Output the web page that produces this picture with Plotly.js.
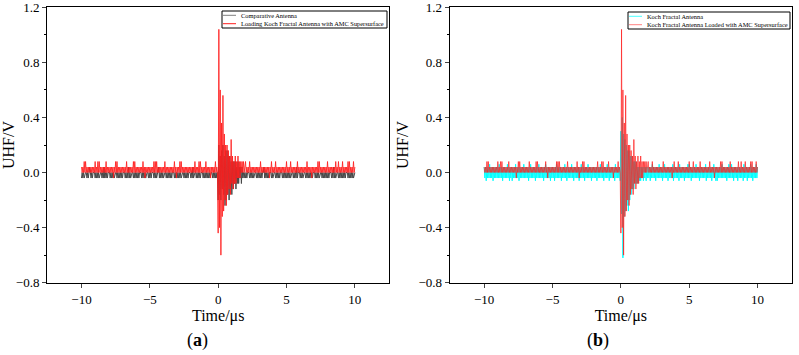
<!DOCTYPE html>
<html>
<head>
<meta charset="utf-8">
<script src="https://cdn.plot.ly/plotly-3.0.1.min.js"></script>
<style>html,body{margin:0;padding:0;background:#fff}#chart{width:799px;height:355px}</style>
</head>
<body>
<div id="chart"></div>
<script>
// Sampling of the UHF traces: start time and step, in microseconds
const t0 = -10;
const dt = 0.05;

// Comparative antenna (panel a), volts, one row per microsecond
const comparative = [
  -0.04,0,-0.04,0,-0.04,0,0,0,-0.04,0,-0.04,0,0.04,0,-0.04,0,-0.04,0,0,0,
  -0.04,0,-0.04,0,-0.04,0,-0.04,0,0,0,-0.04,0,-0.04,0.04,-0.04,0,-0.04,0,-0.04,0,
  0,0,-0.04,0,-0.04,0,-0.04,0,-0.04,0,0,0,-0.04,0,-0.04,0,-0.04,0,-0.04,0,
  -0.04,0,0,0,-0.04,0,-0.04,0,-0.04,0.04,-0.04,0,-0.04,0,0,0,-0.04,0,-0.04,0,
  -0.04,0,-0.04,0,-0.04,0,0,0,-0.04,0,-0.04,0,-0.04,0,-0.04,0,0,0,-0.04,0,
  -0.04,0,-0.04,0,0,0,-0.04,0,-0.04,0,-0.04,0,0,0.04,-0.04,0,-0.04,0,-0.04,0,
  -0.04,0,0,0,-0.04,0,-0.04,0,-0.04,0,-0.04,0,-0.04,0,0,0,-0.04,0,-0.04,0,
  -0.04,0,-0.04,0,-0.04,0,-0.04,0,0,0,-0.04,0,-0.04,0,-0.04,0,-0.04,0,0,0,
  -0.04,0,-0.04,0.04,-0.04,0,0,0,-0.04,0,-0.04,0,-0.04,0,-0.04,0,0,0,-0.04,0,
  -0.04,0,-0.04,0,-0.04,0,-0.04,0,-0.04,0,0,0,-0.04,0,-0.04,0,-0.04,0,-0.04,0,
  -0.20,0.20,-0.16,0.12,-0.20,0.16,-0.12,0.20,-0.16,0.12,-0.24,0.16,-0.20,0.16,-0.16,0.12,-0.20,0.12,-0.12,0.08,
  -0.16,0.08,-0.12,0.08,-0.08,0.08,-0.12,0.04,-0.08,0.08,-0.08,0.04,-0.04,0.04,-0.08,0.04,-0.04,0,-0.04,0,
  -0.04,0,-0.04,0,0,0,-0.04,0,-0.04,0,-0.04,0,-0.04,0,0,0,-0.04,0,-0.04,0,
  -0.04,0,-0.04,0,-0.04,0,0,0.04,-0.04,0,-0.04,0,-0.04,0,-0.04,0,0,0,-0.04,0,
  -0.04,0,0,0,-0.04,0,-0.04,0,-0.04,0,-0.04,0,0,0,-0.04,0,-0.04,0,-0.04,0,
  -0.04,0,-0.04,0,-0.04,0,-0.04,0,0,0,-0.04,0,-0.04,0,-0.04,0.04,-0.04,0,0,0,
  -0.04,0,-0.04,0,-0.04,0,0,0,-0.04,0,-0.04,0,-0.04,0,-0.04,0,-0.04,0,-0.04,0,
  0,0,-0.04,0,-0.04,0,-0.04,0,-0.04,0,0,0,-0.04,0,-0.04,0,-0.04,0,-0.04,0,
  -0.04,0,-0.04,0,0,0,-0.04,0,-0.04,0.04,-0.04,0,-0.04,0,0,0,-0.04,0,-0.04,0,
  -0.04,0,-0.04,0,-0.04,0,-0.04,0,0,0,-0.04,0,-0.04,0,-0.04,0,-0.04,0,-0.04,0,
  0
];

// Koch fractal antenna loaded with the AMC supersurface (both panels), volts
const amcLoaded = [
  0.04,0,0.04,0,0.08,0,0.08,0,0.04,0,0.04,0,0.04,0,0.04,0,0.04,0,0.04,0,
  0.08,0,0.04,0,0.08,0,0.08,0,0.04,0,0.04,0,0.04,0,0.04,0,0.08,0,0.04,0,
  0.04,0,0.04,0,0.04,0,0.04,-0.04,0.04,0,0.08,0,0.08,0,0.04,0,0.04,0,0.04,0,
  0.04,0,0.04,0,0.04,0,0.08,0,0.04,0,0.04,0,0.04,0,0.04,0,0.08,0,0.08,0,
  0.04,0,0.04,0,0.04,0,0.04,0,0.04,0,0.08,0,0.04,-0.04,0.04,0,0.04,0,0.04,0,
  0.04,0,0.04,0,0.04,0,0.08,0,0.08,0,0.08,0,0.04,0,0.04,0,0.04,0,0.04,0,
  0.04,0,0.08,0,0.04,0,0.04,0,0.04,0,0.04,0,0.04,0,0.04,0,0.08,0,0.04,-0.04,
  0.04,0,0.04,0,0.08,0,0.08,0,0.04,0,0.04,0,0.04,0,0.04,0,0.04,0,0.04,0,
  0.04,0,0.04,0,0.04,0,0.08,0,0.04,0,0.04,0,0.08,0,0.08,0,0.04,0,0.04,0,
  0.04,0,0.08,0,0.04,0,0.04,0,0.04,-0.04,0.04,0,0.04,0,0.04,0,0.08,0,0.04,0,
  -0.44,1.04,-0.40,0.60,-0.60,0.36,-0.32,0.56,-0.28,0.28,-0.20,0.20,-0.24,0.20,-0.16,0.16,-0.12,0.12,-0.16,0.24,
  -0.08,0.12,-0.12,0.08,-0.08,0.12,-0.08,0.08,-0.04,0.12,-0.04,0.08,-0.04,0.08,0,0.08,0,0.08,0,0.08,
  0.08,0,0.04,0,0.04,0,0.08,0,0.04,0,0.04,0,0.04,0,0.04,0,0.04,0,0.04,0,
  0.04,0,0.08,0,0.04,0,0.04,0,0.04,0,0.04,0,0.04,0,0.04,-0.04,0.04,0,0.08,0,
  0.04,0,0.04,0,0.08,0,0.04,0,0.04,0,0.04,0,0.04,0,0.04,0,0.04,0,0.04,0,
  0.08,0,0.04,0,0.04,0,0.08,0,0.04,0,0.04,0,0.04,0,0.04,0,0.08,0,0.04,0,
  0.04,0,0.04,0,0.04,0,0.04,0,0.04,0,0.08,0,0.04,0,0.04,0,0.04,-0.04,0.04,0,
  0.04,0,0.04,0,0.04,0,0.08,0,0.08,0,0.04,0,0.04,0,0.04,0,0.04,0,0.04,0,
  0.08,0,0.04,0,0.04,0,0.04,0,0.04,0,0.04,0,0.08,0,0.04,0,0.08,0,0.04,0,
  0.04,0,0.08,0,0.04,0,0.04,0,0.04,0,0.08,0,0.08,0,0.04,0,0.04,0,0.08,0,
  0.04
];

// Koch fractal antenna without the supersurface (panel b), volts
const kochFractal = [
  0.04,-0.04,0.04,-0.06,0.04,-0.04,0.04,-0.04,0.06,-0.04,0.04,-0.04,0.04,-0.06,0.04,-0.04,0.04,-0.04,0.04,-0.04,
  0.04,-0.04,0.06,-0.04,0.04,-0.04,0.04,-0.06,0.04,-0.04,0.04,-0.04,0.04,-0.04,0.06,-0.04,0.04,-0.06,0.04,-0.04,
  0.04,-0.06,0.04,-0.04,0.04,-0.04,0.06,-0.04,0.04,-0.04,0.04,-0.06,0.04,-0.04,0.04,-0.04,0.04,-0.04,0.06,-0.04,
  0.04,-0.04,0.04,-0.04,0.04,-0.06,0.04,-0.04,0.06,-0.04,0.04,-0.04,0.04,-0.04,0.04,-0.06,0.04,-0.04,0.04,-0.04,
  0.06,-0.04,0.04,-0.04,0.04,-0.04,0.04,-0.06,0.04,-0.04,0.06,-0.04,0.04,-0.04,0.04,-0.04,0.04,-0.06,0.04,-0.04,
  0.04,-0.04,0.04,-0.06,0.04,-0.04,0.06,-0.04,0.04,-0.04,0.04,-0.04,0.04,-0.06,0.04,-0.04,0.04,-0.04,0.06,-0.04,
  0.04,-0.06,0.04,-0.04,0.04,-0.04,0.04,-0.04,0.06,-0.04,0.04,-0.06,0.04,-0.04,0.04,-0.04,0.04,-0.04,0.04,-0.06,
  0.04,-0.04,0.06,-0.04,0.04,-0.04,0.04,-0.06,0.04,-0.04,0.04,-0.04,0.06,-0.04,0.04,-0.04,0.04,-0.06,0.04,-0.04,
  0.04,-0.04,0.04,-0.04,0.04,-0.06,0.04,-0.04,0.04,-0.04,0.06,-0.04,0.04,-0.04,0.04,-0.06,0.04,-0.04,0.04,-0.04,
  0.06,-0.04,0.04,-0.06,0.04,-0.04,0.04,-0.04,0.04,-0.04,0.04,-0.06,0.06,-0.04,0.04,-0.04,0.04,-0.04,0.04,-0.06,
  0.30,-0.30,0.40,-0.62,0.28,-0.32,0.24,-0.28,0.20,-0.24,0.16,-0.28,0.16,-0.20,0.12,-0.16,0.12,-0.12,0.08,-0.12,
  0.08,-0.08,0.08,-0.08,0.04,-0.08,0.04,-0.06,0.04,-0.06,0.04,-0.04,0.04,-0.06,0.04,-0.04,0.04,-0.06,0.04,-0.04,
  0.04,-0.04,0.04,-0.06,0.04,-0.04,0.06,-0.04,0.04,-0.04,0.04,-0.06,0.04,-0.04,0.04,-0.04,0.06,-0.04,0.04,-0.04,
  0.04,-0.06,0.04,-0.04,0.06,-0.04,0.04,-0.04,0.04,-0.06,0.04,-0.04,0.04,-0.04,0.04,-0.04,0.06,-0.06,0.04,-0.04,
  0.04,-0.04,0.04,-0.04,0.04,-0.06,0.06,-0.04,0.04,-0.04,0.04,-0.04,0.04,-0.06,0.04,-0.04,0.04,-0.04,0.06,-0.04,
  0.06,-0.04,0.04,-0.06,0.04,-0.04,0.04,-0.04,0.04,-0.04,0.06,-0.04,0.04,-0.04,0.04,-0.06,0.04,-0.04,0.04,-0.04,
  0.04,-0.04,0.04,-0.04,0.06,-0.06,0.04,-0.04,0.04,-0.04,0.04,-0.04,0.04,-0.06,0.04,-0.04,0.06,-0.04,0.04,-0.06,
  0.04,-0.06,0.04,-0.04,0.04,-0.04,0.04,-0.04,0.06,-0.04,0.04,-0.04,0.04,-0.04,0.04,-0.06,0.04,-0.04,0.06,-0.04,
  0.04,-0.04,0.06,-0.04,0.04,-0.06,0.04,-0.04,0.04,-0.04,0.04,-0.06,0.04,-0.04,0.04,-0.04,0.04,-0.04,0.04,-0.06,
  0.06,-0.04,0.04,-0.04,0.04,-0.06,0.04,-0.04,0.04,-0.04,0.06,-0.04,0.04,-0.06,0.04,-0.04,0.04,-0.04,0.06,-0.04,
  0.04
];

// Text
const seriesNames = {
  comparative: 'Comparative Antenna',
  loadedA: 'Loading Koch Fractal Antenna with AMC Supersurface',
  koch: 'Koch Fractal Antenna',
  loadedB: 'Koch Fractal Antenna Loaded with AMC Supersurface'
};
const xTitle = 'Time/μs';
const yTitle = 'UHF/V';
const panelLabels = ['(<b>a</b>)', '(<b>b</b>)'];

const SERIF = '"Liberation Serif", "Times New Roman", serif';
const RED = 'rgb(255,30,30)';
const GRAY = 'rgb(72,72,72)';
const CYAN = 'rgb(0,255,255)';

function trace(y, name, color, xa, ya, opacity) {
  return {
    type: 'scatter', mode: 'lines', x0: t0, dx: dt, y: y, name: name,
    xaxis: xa, yaxis: ya, opacity: opacity, showlegend: false,
    line: {color: color, width: 1}, hoverinfo: 'skip'
  };
}

const data = [
  trace(comparative, seriesNames.comparative, GRAY, 'x', 'y', 1),
  trace(amcLoaded, seriesNames.loadedA, RED, 'x', 'y', 0.85),
  trace(kochFractal, seriesNames.koch, CYAN, 'x2', 'y2', 1),
  trace(amcLoaded, seriesNames.loadedB, RED, 'x2', 'y2', 0.7)
];

function xAxis(domain, anchor) {
  return {
    domain: domain, anchor: anchor, range: [-12.5, 12.5],
    tickvals: [-10, -5, 0, 5, 10], ticks: 'outside', ticklen: 4, tickwidth: 1,
    showline: true, mirror: true, linecolor: '#000', linewidth: 1.3,
    showgrid: false, zeroline: false, automargin: false,
    tickfont: {family: SERIF, size: 13, color: '#000'},
    title: {text: xTitle, font: {family: SERIF, size: 16, color: '#000'}, standoff: 3}
  };
}
function yAxis(domain, anchor) {
  return {
    domain: domain, anchor: anchor, range: [-0.8001, 1.2001],
    tickvals: [-0.8, -0.4, 0, 0.4, 0.8, 1.2], tickformat: '.1f',
    ticks: 'outside', ticklen: 4, tickwidth: 1, ticklabeloverflow: 'allow',
    minor: {dtick: 0.2, tick0: 0, ticks: 'outside', ticklen: 2, tickwidth: 1, tickcolor: '#000'},
    showline: true, mirror: true, linecolor: '#000', linewidth: 1.3,
    showgrid: false, zeroline: false, automargin: false,
    tickfont: {family: SERIF, size: 13, color: '#000'},
    title: {text: yTitle, font: {family: SERIF, size: 16, color: '#000'}, standoff: 6}
  };
}

// Pixel helpers for the hand-built legends and panel labels
const W = 799, H = 355;
const px = (v) => v / W;
const py = (v) => 1 - v / H;

// Legend boxes: [left, top, right, bottom, sampleStart, sampleEnd, textStart] in pixels
function legendBox(box, entries) {
  const [l, t, r, b, s0, s1, tx] = box;
  const shapes = [{type: 'rect', xref: 'paper', yref: 'paper', x0: px(l), x1: px(r), y0: py(b), y1: py(t),
                   line: {color: '#000', width: 1}, fillcolor: 'rgba(0,0,0,0)'}];
  const anns = [];
  entries.forEach((e, i) => {
    const yy = t + 4.3 + i * 8.4;
    shapes.push({type: 'line', xref: 'paper', yref: 'paper', x0: px(s0), x1: px(s1), y0: py(yy), y1: py(yy),
                 line: {color: e.color, width: 1}, opacity: e.opacity});
    anns.push({text: e.name, x: px(tx), y: py(yy), xref: 'paper', yref: 'paper', xanchor: 'left', yanchor: 'middle',
               showarrow: false, font: {family: SERIF, size: 6.4, color: '#000'}});
  });
  return {shapes, anns};
}

const legA = legendBox([222, 11, 387, 28, 223, 236, 239],
  [{name: seriesNames.comparative, color: 'rgb(128,128,128)', opacity: 1},
   {name: seriesNames.loadedA, color: RED, opacity: 1}]);
const legB = legendBox([628, 12, 790, 29, 629, 642, 645],
  [{name: seriesNames.koch, color: CYAN, opacity: 0.7},
   {name: seriesNames.loadedB, color: RED, opacity: 0.55}]);

const layout = {
  width: W, height: H,
  margin: {l: 0, r: 0, t: 0, b: 0},
  paper_bgcolor: '#fff', plot_bgcolor: '#fff',
  showlegend: false,
  xaxis: xAxis([0.0592, 0.4869], 'y'),
  yaxis: yAxis([0.2037, 0.9794], 'x'),
  xaxis2: xAxis([0.5632, 0.9909], 'y2'),
  yaxis2: yAxis([0.2037, 0.9794], 'x2'),
  shapes: legA.shapes.concat(legB.shapes),
  annotations: legA.anns.concat(legB.anns).concat([
    {text: panelLabels[0], x: px(197), y: py(340), xref: 'paper', yref: 'paper', xanchor: 'center', yanchor: 'middle',
     showarrow: false, font: {family: SERIF, size: 18, color: '#000'}},
    {text: panelLabels[1], x: px(598), y: py(340), xref: 'paper', yref: 'paper', xanchor: 'center', yanchor: 'middle',
     showarrow: false, font: {family: SERIF, size: 18, color: '#000'}}
  ])
};

Plotly.newPlot('chart', data, layout, {staticPlot: true, displayModeBar: false});
</script>
</body>
</html>
